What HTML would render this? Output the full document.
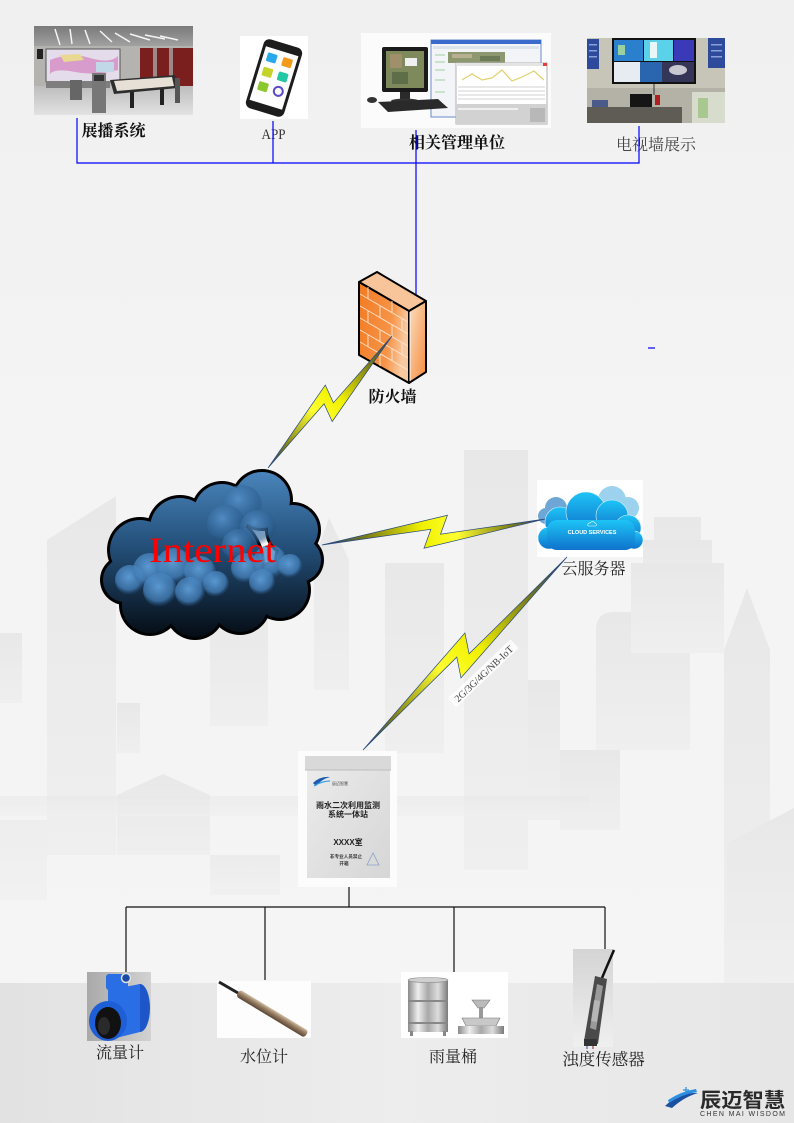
<!DOCTYPE html>
<html><head><meta charset="utf-8"><style>
html,body{margin:0;padding:0;background:#f3f3f3;}
svg{display:block;}
.cj{font-family:"Liberation Serif","Noto Serif CJK SC",serif;}
.cs{font-family:"Liberation Sans","Noto Sans CJK SC",sans-serif;}
</style></head><body>
<svg width="794" height="1123" viewBox="0 0 794 1123" xmlns="http://www.w3.org/2000/svg">
<defs>
<linearGradient id="bg" x1="0" y1="0" x2="0" y2="1"><stop offset="0" stop-color="#f0f0f0"/><stop offset="0.4" stop-color="#f4f4f4"/><stop offset="1" stop-color="#f5f5f5"/></linearGradient>
<linearGradient id="band" x1="0" y1="0" x2="1" y2="0"><stop offset="0" stop-color="#e2e2e2"/><stop offset="0.5" stop-color="#ededed"/><stop offset="1" stop-color="#e6e6e6"/></linearGradient>
<linearGradient id="bld" x1="0" y1="0" x2="0" y2="1"><stop offset="0" stop-color="#e8e8e8"/><stop offset="1" stop-color="#efefef"/></linearGradient>
<linearGradient id="cloudG" gradientUnits="userSpaceOnUse" x1="0" y1="470" x2="0" y2="637"><stop offset="0" stop-color="#4a86bd"/><stop offset="0.45" stop-color="#24507a"/><stop offset="1" stop-color="#050c14"/></linearGradient>
<radialGradient id="puff" cx="0.45" cy="0.4" r="0.6"><stop offset="0" stop-color="#5e9ed8" stop-opacity="0.95"/><stop offset="0.7" stop-color="#4682bc" stop-opacity="0.75"/><stop offset="1" stop-color="#2e5f92" stop-opacity="0"/></radialGradient>
<radialGradient id="puff2" cx="0.4" cy="0.35" r="0.65"><stop offset="0" stop-color="#5590c8" stop-opacity="0.9"/><stop offset="0.75" stop-color="#2f6396" stop-opacity="0.6"/><stop offset="1" stop-color="#1c3f62" stop-opacity="0"/></radialGradient>
<linearGradient id="b1" gradientUnits="userSpaceOnUse" x1="392" y1="336" x2="268" y2="468"><stop offset="0" stop-color="#1e3c78"/><stop offset="0.2" stop-color="#7a7a18"/><stop offset="0.45" stop-color="#f0f000"/><stop offset="0.6" stop-color="#ffff30"/><stop offset="0.85" stop-color="#7a7a18"/><stop offset="1" stop-color="#1e3c78"/></linearGradient>
<linearGradient id="b2" gradientUnits="userSpaceOnUse" x1="322" y1="545" x2="545" y2="519"><stop offset="0" stop-color="#1e3c78"/><stop offset="0.2" stop-color="#7a7a18"/><stop offset="0.45" stop-color="#f0f000"/><stop offset="0.6" stop-color="#ffff30"/><stop offset="0.85" stop-color="#7a7a18"/><stop offset="1" stop-color="#1e3c78"/></linearGradient>
<linearGradient id="b3" gradientUnits="userSpaceOnUse" x1="567" y1="557" x2="363" y2="750"><stop offset="0" stop-color="#1e3c78"/><stop offset="0.2" stop-color="#7a7a18"/><stop offset="0.45" stop-color="#f0f000"/><stop offset="0.6" stop-color="#ffff30"/><stop offset="0.85" stop-color="#7a7a18"/><stop offset="1" stop-color="#1e3c78"/></linearGradient>
<linearGradient id="fwF" x1="0" y1="0" x2="1" y2="0.3"><stop offset="0" stop-color="#f27a22"/><stop offset="0.7" stop-color="#f69448"/><stop offset="1" stop-color="#f9c9a0"/></linearGradient>
<linearGradient id="fwR" x1="0" y1="0" x2="1" y2="1"><stop offset="0" stop-color="#fbe0c4"/><stop offset="1" stop-color="#f58a3a"/></linearGradient>
<linearGradient id="csG" x1="0" y1="0" x2="0" y2="1"><stop offset="0" stop-color="#1ec4f6"/><stop offset="1" stop-color="#0f72cc"/></linearGradient>
<linearGradient id="boxG" x1="0" y1="0" x2="1" y2="1"><stop offset="0" stop-color="#ececec"/><stop offset="1" stop-color="#d6d6d6"/></linearGradient>
<linearGradient id="metal" x1="0" y1="0" x2="1" y2="0"><stop offset="0" stop-color="#8a8a8a"/><stop offset="0.25" stop-color="#eeeeee"/><stop offset="0.5" stop-color="#a8a8a8"/><stop offset="0.75" stop-color="#dddddd"/><stop offset="1" stop-color="#7a7a7a"/></linearGradient>
<linearGradient id="fmBg" x1="0" y1="0" x2="1" y2="0"><stop offset="0" stop-color="#a9a9a9"/><stop offset="1" stop-color="#d2d2d2"/></linearGradient>
<linearGradient id="tbBg" x1="0" y1="0" x2="0" y2="1"><stop offset="0" stop-color="#d4d4d4"/><stop offset="1" stop-color="#efefef"/></linearGradient>
<linearGradient id="ceil" x1="0" y1="0" x2="0" y2="1"><stop offset="0" stop-color="#7a7a7a"/><stop offset="1" stop-color="#a8a8a8"/></linearGradient>
<linearGradient id="floor" x1="0" y1="0" x2="0" y2="1"><stop offset="0" stop-color="#bdbdbd"/><stop offset="1" stop-color="#e2e2e2"/></linearGradient>
<linearGradient id="rod" gradientUnits="userSpaceOnUse" x1="0" y1="-4" x2="0" y2="4"><stop offset="0" stop-color="#d2c0a6"/><stop offset="0.4" stop-color="#9a8066"/><stop offset="1" stop-color="#5a4634"/></linearGradient>
</defs>

<!-- background -->
<rect x="0" y="0" width="794" height="1123" fill="url(#bg)"/>
<g fill="url(#bld)">
<rect x="464" y="450" width="64" height="420"/>
<polygon points="47,540 116,496 116,855 47,855"/>
<rect x="0" y="633" width="22" height="70"/>
<rect x="117" y="703" width="23" height="50"/>
<rect x="210" y="600" width="58" height="126"/>
<polygon points="314,560 329,518 349,560 349,690 314,690"/>
<rect x="385" y="563" width="59" height="190"/>
<rect x="528" y="680" width="32" height="140"/>
<path d="M596,750 L596,630 Q596,612 614,612 L690,612 L690,750 Z"/>
<rect x="654" y="517" width="47" height="120"/>
<rect x="643" y="540" width="69" height="100"/>
<rect x="631" y="563" width="93" height="90"/>
<polygon points="724,650 747,588 770,650 770,1000 724,1000"/>
<rect x="560" y="750" width="60" height="80"/>
<polygon points="117,795 163,774 210,795 210,855 117,855"/>
<rect x="0" y="796" width="590" height="20" opacity="0.6"/>
<polygon points="727,843 794,808 794,983 727,983"/>
<rect x="210" y="855" width="70" height="40" opacity="0.7"/>
<rect x="0" y="820" width="47" height="80" opacity="0.6"/>
</g>
<rect x="0" y="983" width="794" height="140" fill="url(#band)"/>

<!-- IMAGE 1: 展播系统 -->
<g>
<rect x="34" y="26" width="159" height="89" fill="#a4a4a4"/>
<rect x="34" y="26" width="159" height="24" fill="url(#ceil)"/>
<g stroke="#f4f4f4" stroke-width="1.5">
<line x1="55" y1="29" x2="60" y2="45"/><line x1="70" y1="29" x2="72" y2="44"/><line x1="85" y1="30" x2="90" y2="44"/><line x1="100" y1="31" x2="112" y2="42"/><line x1="115" y1="33" x2="130" y2="42"/><line x1="130" y1="34" x2="150" y2="40"/><line x1="145" y1="35" x2="165" y2="39"/><line x1="160" y1="36" x2="178" y2="40"/>
</g>
<rect x="34" y="46" width="159" height="40" fill="#b5b3b0"/>
<rect x="37" y="49" width="6" height="10" fill="#222"/>
<rect x="46" y="49" width="74" height="33" fill="#e4dcea"/>
<path d="M50,60 Q70,52 90,58 T118,56 L118,70 Q95,76 75,72 T50,74 Z" fill="#d89ccc"/>
<path d="M60,55 L80,54 L84,60 L64,62 Z" fill="#e8d890"/>
<rect x="96" y="62" width="18" height="10" fill="#c0d8e8"/>
<rect x="46" y="49" width="74" height="33" fill="none" stroke="#555" stroke-width="1"/>
<rect x="140" y="48" width="53" height="40" fill="#7b1e1e"/>
<rect x="153" y="48" width="4" height="40" fill="#9a8a8a"/>
<rect x="169" y="48" width="4" height="40" fill="#9a8a8a"/>
<rect x="34" y="86" width="159" height="29" fill="url(#floor)"/>
<rect x="46" y="81" width="64" height="7" fill="#7e7e7e"/>
<rect x="70" y="80" width="12" height="20" fill="#666"/>
<rect x="92" y="73" width="14" height="40" fill="#777"/>
<rect x="94" y="75" width="10" height="6" fill="#333"/>
<polygon points="110,80 175,75 178,88 114,94" fill="#2e2e2e"/>
<polygon points="114,81 172,77 174,86 117,91" fill="#e6e0d6"/>
<rect x="130" y="92" width="4" height="16" fill="#222"/>
<rect x="160" y="89" width="4" height="16" fill="#222"/>
<rect x="175" y="78" width="5" height="25" fill="#555"/>
</g>

<!-- IMAGE 2: APP -->
<rect x="240" y="36" width="68" height="83" fill="#ffffff"/>
<g transform="rotate(17 274 78)">
<rect x="254" y="42" width="40" height="72" rx="6" fill="#1c1c1c"/>
<rect x="257" y="50" width="34" height="56" fill="#fdfdfd"/>
<rect x="261" y="55" width="10" height="9" rx="1.5" fill="#2aa8ec"/>
<rect x="277" y="55" width="10" height="9" rx="1.5" fill="#f29a1c"/>
<rect x="261" y="70" width="10" height="9" rx="1.5" fill="#c4d22a"/>
<rect x="277" y="70" width="10" height="9" rx="1.5" fill="#22c8a4"/>
<rect x="261" y="85" width="10" height="9" rx="1.5" fill="#8ac82e"/>
<circle cx="282" cy="89.5" r="4.5" fill="none" stroke="#5a4ad0" stroke-width="2"/>
</g>

<!-- IMAGE 3: 相关管理单位 -->
<g>
<rect x="361" y="33" width="190" height="95" fill="#fbfbfb"/>
<rect x="431" y="40" width="110" height="77" fill="#f2f4f7" stroke="#6a8acb" stroke-width="1"/>
<rect x="431" y="40" width="110" height="4" fill="#3a6acb"/>
<rect x="433" y="46" width="106" height="3" fill="#dde3ea"/>
<rect x="448" y="52" width="57" height="11" fill="#8e9870"/>
<rect x="452" y="54" width="20" height="4" fill="#b8b090"/>
<rect x="480" y="56" width="20" height="5" fill="#6c7a58"/>
<g stroke="#9fcf9f" stroke-width="1"><line x1="435" y1="55" x2="445" y2="55"/><line x1="435" y1="62" x2="445" y2="62"/><line x1="435" y1="70" x2="445" y2="70"/><line x1="435" y1="80" x2="445" y2="80"/><line x1="435" y1="92" x2="445" y2="92"/></g>
<rect x="456" y="63" width="91" height="61" fill="#ffffff" stroke="#b0b0b0" stroke-width="1"/>
<rect x="456" y="63" width="91" height="3" fill="#e4e4e4"/>
<rect x="543" y="63" width="4" height="3" fill="#e04040"/>
<polyline points="462,80 472,74 482,80 492,78 502,70 512,81 522,77 534,71 544,80" fill="none" stroke="#e0d070" stroke-width="1.2"/>
<g stroke="#d0d0d0" stroke-width="1"><line x1="458" y1="87" x2="545" y2="87"/><line x1="458" y1="91" x2="545" y2="91"/><line x1="458" y1="95" x2="545" y2="95"/><line x1="458" y1="99" x2="545" y2="99"/></g>
<rect x="456" y="104" width="91" height="20" fill="#d2d2d2"/>
<rect x="458" y="108" width="60" height="2" fill="#f0f0f0"/>
<rect x="530" y="108" width="15" height="14" fill="#b8b8b8"/>
<rect x="382" y="47" width="46" height="45" rx="2" fill="#1a1a1a"/>
<rect x="386" y="51" width="38" height="37" fill="#7e8a5c"/>
<rect x="390" y="54" width="12" height="14" fill="#a0906a"/>
<rect x="405" y="58" width="12" height="8" fill="#f0f0f0"/>
<rect x="392" y="72" width="16" height="12" fill="#5e6e48"/>
<rect x="400" y="92" width="10" height="8" fill="#2a2a2a"/>
<ellipse cx="405" cy="101" rx="14" ry="2.5" fill="#333"/>
<polygon points="378,102 438,99 448,108 388,112" fill="#2a2a2a"/>
<ellipse cx="372" cy="100" rx="5" ry="3" fill="#333"/>
</g>

<!-- IMAGE 4: 电视墙展示 -->
<g>
<rect x="587" y="38" width="138" height="85" fill="#c7c5b8"/>
<rect x="587" y="88" width="138" height="35" fill="#b4b2a6"/>
<rect x="587" y="39" width="12" height="30" fill="#2e4a9a"/>
<rect x="708" y="38" width="17" height="30" fill="#2e4a9a"/>
<g fill="#8aa0d8"><rect x="589" y="44" width="8" height="1.5"/><rect x="589" y="50" width="8" height="1.5"/><rect x="589" y="56" width="8" height="1.5"/><rect x="711" y="44" width="11" height="1.5"/><rect x="711" y="50" width="11" height="1.5"/><rect x="711" y="56" width="11" height="1.5"/></g>
<rect x="612" y="38" width="84" height="46" fill="#111"/>
<rect x="614" y="40" width="29" height="21" fill="#2a80cc"/>
<rect x="618" y="45" width="7" height="10" fill="#9ad0a0"/>
<rect x="644" y="40" width="29" height="21" fill="#5cd2ea"/>
<rect x="650" y="42" width="7" height="16" fill="#e8f6f8"/>
<rect x="674" y="40" width="20" height="21" fill="#3a3ab8"/>
<rect x="614" y="62" width="26" height="20" fill="#e6ecf2"/>
<rect x="640" y="62" width="22" height="20" fill="#2a66b0"/>
<rect x="662" y="62" width="32" height="20" fill="#353558"/>
<ellipse cx="678" cy="70" rx="9" ry="5" fill="#c8c8d0"/>
<line x1="654" y1="84" x2="654" y2="95" stroke="#333"/>
<rect x="592" y="100" width="16" height="23" fill="#4a5a8a"/>
<rect x="630" y="94" width="22" height="14" fill="#151515"/>
<rect x="587" y="107" width="95" height="16" fill="#5e5c55"/>
<rect x="655" y="95" width="5" height="10" fill="#b02020"/>
<rect x="692" y="92" width="33" height="31" fill="#d8dccc"/>
<rect x="698" y="98" width="10" height="20" fill="#a8c890"/>
</g>

<!-- top labels -->
<text x="113.5" y="136" text-anchor="middle" class="cj" font-size="16" font-weight="bold" fill="#111">展播系统</text>
<text x="273.5" y="139" text-anchor="middle" font-family="Liberation Serif, serif" font-size="15" fill="#333" textLength="24" lengthAdjust="spacingAndGlyphs">APP</text>
<text x="457" y="148" text-anchor="middle" class="cj" font-size="16" font-weight="bold" fill="#111">相关管理单位</text>
<text x="656" y="150" text-anchor="middle" class="cj" font-size="16" fill="#444">电视墙展示</text>

<!-- blue connectors -->
<g stroke="#0000ff" stroke-width="1.2" fill="none">
<polyline points="77,118 77,163 639,163 639,126"/>
<line x1="273" y1="121" x2="273" y2="163"/>
<line x1="416" y1="130" x2="416" y2="295"/>
<line x1="648" y1="348" x2="655" y2="348"/>
</g>

<!-- firewall -->
<g stroke="#000" stroke-width="2" stroke-linejoin="round">
<polygon points="359,282 377,272 426,301 409,311" fill="#f8c49a"/>
<polygon points="359,282 409,311 409,383 359,355" fill="url(#fwF)"/>
<polygon points="409,311 426,301 426,372 409,383" fill="url(#fwR)"/>
</g>
<g stroke="#fde6d2" stroke-width="1" opacity="0.9">
<line x1="360" y1="294" x2="408" y2="322"/>
<line x1="360" y1="306" x2="408" y2="334"/>
<line x1="360" y1="318" x2="408" y2="346"/>
<line x1="360" y1="330" x2="408" y2="358"/>
<line x1="360" y1="342" x2="408" y2="370"/>
<line x1="368" y1="287" x2="368" y2="299"/><line x1="392" y1="301" x2="392" y2="313"/>
<line x1="380" y1="306" x2="380" y2="318"/><line x1="402" y1="319" x2="402" y2="331"/>
<line x1="368" y1="311" x2="368" y2="323"/><line x1="392" y1="325" x2="392" y2="337"/>
<line x1="380" y1="330" x2="380" y2="342"/><line x1="402" y1="343" x2="402" y2="355"/>
<line x1="368" y1="335" x2="368" y2="347"/><line x1="392" y1="349" x2="392" y2="361"/>
<line x1="380" y1="354" x2="380" y2="366"/>
<line x1="410" y1="312" x2="410" y2="381" stroke="#ffffff"/>
</g>
<text x="392.5" y="402" text-anchor="middle" class="cj" font-size="16" font-weight="bold" fill="#111">防火墙</text>

<!-- Internet cloud -->
<g fill="#000">
<circle cx="262" cy="500" r="31"/><circle cx="222" cy="512" r="31"/><circle cx="180" cy="528" r="33"/><circle cx="140" cy="550" r="33"/><circle cx="125" cy="580" r="25"/><circle cx="150" cy="605" r="31"/><circle cx="195" cy="610" r="30"/><circle cx="240" cy="604" r="31"/><circle cx="280" cy="590" r="31"/><circle cx="299" cy="560" r="25"/><circle cx="293" cy="530" r="28"/><circle cx="210" cy="565" r="55"/>
</g>
<g fill="url(#cloudG)">
<circle cx="262" cy="500" r="28"/><circle cx="222" cy="512" r="28"/><circle cx="180" cy="528" r="30"/><circle cx="140" cy="550" r="30"/><circle cx="125" cy="580" r="22"/><circle cx="150" cy="605" r="28"/><circle cx="195" cy="610" r="27"/><circle cx="240" cy="604" r="28"/><circle cx="280" cy="590" r="28"/><circle cx="299" cy="560" r="22"/><circle cx="293" cy="530" r="25"/><circle cx="210" cy="565" r="52"/>
</g>
<g fill="url(#puff2)">
<circle cx="242" cy="505" r="20"/><circle cx="226" cy="524" r="19"/><circle cx="258" cy="528" r="18"/><circle cx="238" cy="545" r="16"/>
</g>
<g fill="url(#puff)">
<circle cx="130" cy="580" r="15"/><circle cx="150" cy="570" r="17"/><circle cx="174" cy="566" r="18"/><circle cx="200" cy="572" r="16"/><circle cx="160" cy="590" r="17"/><circle cx="190" cy="592" r="15"/><circle cx="216" cy="584" r="13"/>
<circle cx="246" cy="568" r="15"/><circle cx="270" cy="562" r="17"/><circle cx="290" cy="566" r="12"/><circle cx="262" cy="582" r="13"/>
</g>
<text x="149" y="562" font-family="Liberation Serif, serif" font-size="36" fill="#ff0000" textLength="127" lengthAdjust="spacingAndGlyphs">Internet</text>

<!-- cloud server -->
<g>
<rect x="537" y="480" width="106" height="77" fill="#ffffff"/>
<g fill="#9cd2ee"><circle cx="612" cy="500" r="14"/><circle cx="628" cy="508" r="11"/><circle cx="598" cy="506" r="10"/></g>
<g fill="#6ea6d6"><circle cx="556" cy="508" r="11"/><circle cx="546" cy="516" r="8"/></g>
<g fill="url(#csG)" stroke="#d8f2fc" stroke-width="0.6">
<circle cx="560" cy="522" r="15"/><circle cx="586" cy="512" r="20"/><circle cx="612" cy="516" r="16"/><circle cx="628" cy="528" r="13"/><circle cx="549" cy="538" r="11"/><circle cx="634" cy="540" r="9"/>
</g>
<rect x="547" y="520" width="88" height="30" rx="10" fill="url(#csG)"/>
<text x="592" y="534" text-anchor="middle" font-family="Liberation Sans, sans-serif" font-size="5.5" font-weight="bold" fill="#ffffff">CLOUD SERVICES</text>
<path d="M588,526 a2,2 0 0 1 2,-3 a3,3 0 0 1 5,0 a2,2 0 0 1 1,3 z" fill="none" stroke="#fff" stroke-width="0.6"/>
</g>
<text x="593.5" y="574" text-anchor="middle" class="cj" font-size="16" fill="#222">云服务器</text>

<!-- lightning bolts -->
<g stroke="#2a4a7a" stroke-width="0.7" stroke-linejoin="miter">
<polygon points="392,336 332.2,421.5 324.1,403.8 268,468 325.3,385.1 333.4,402.8" fill="url(#b1)"/>
<polygon points="322,545 447.4,515.3 440.5,534.2 545,519 424.0,548.2 430.9,529.3" fill="url(#b2)"/>
<polygon points="567,557 461.0,677.9 456.8,657.1 363,750 464.9,633.0 469.1,653.8" fill="url(#b3)"/>
</g>
<g transform="translate(484 674) rotate(-43.4)">
<rect x="-43" y="-7" width="86" height="12" fill="#ffffff" opacity="0.85"/>
<text x="0" y="3" text-anchor="middle" font-family="Liberation Serif, serif" font-size="10" fill="#444">2G/3G/4G/NB-IoT</text>
</g>

<!-- station box -->
<g>
<rect x="298" y="751" width="99" height="136" fill="#fcfcfc"/>
<rect x="307" y="757" width="83" height="121" fill="url(#boxG)"/>
<rect x="305" y="756" width="86" height="14" fill="#d9d9d9"/>
<line x1="305" y1="770" x2="391" y2="770" stroke="#bdbdbd" stroke-width="1"/>
<path d="M313,783 Q320,776 330,777 Q322,779 316,786 Z" fill="#1c5cb0"/>
<path d="M314,786 Q322,781 330,781" stroke="#3aa0e0" stroke-width="1.2" fill="none"/>
<text x="332" y="785" class="cs" font-size="4" fill="#444">辰迈智慧</text>
<text x="348" y="808" text-anchor="middle" class="cs" font-size="8" font-weight="bold" fill="#222">雨水二次利用监测</text>
<text x="348" y="817" text-anchor="middle" class="cs" font-size="8" font-weight="bold" fill="#222">系统一体站</text>
<text x="348" y="845" text-anchor="middle" class="cs" font-size="8" font-weight="bold" fill="#222">XXXX室</text>
<text x="346" y="858" text-anchor="middle" class="cs" font-size="4.6" font-weight="bold" fill="#333">非专业人员禁止</text>
<text x="344" y="865" text-anchor="middle" class="cs" font-size="4.6" font-weight="bold" fill="#333">开箱</text>
<polygon points="373,853 367,865 379,865" fill="none" stroke="#8aa2cc" stroke-width="0.8"/>
</g>

<!-- tree connectors -->
<g stroke="#111" stroke-width="1.2" fill="none">
<line x1="349" y1="887" x2="349" y2="907"/>
<line x1="126" y1="907" x2="605" y2="907"/>
<line x1="126" y1="907" x2="126" y2="972"/>
<line x1="265" y1="907" x2="265" y2="980"/>
<line x1="454" y1="907" x2="454" y2="972"/>
<line x1="605" y1="907" x2="605" y2="949"/>
</g>

<!-- flow meter -->
<g>
<rect x="87" y="972" width="64" height="69" fill="url(#fmBg)"/>
<ellipse cx="140" cy="1008" rx="10" ry="24" fill="#1c56c8"/>
<polygon points="108,990 140,984 140,1032 108,1040" fill="#2a6ee6"/>
<rect x="106" y="974" width="22" height="16" rx="3" fill="#2a6ee6"/>
<circle cx="126" cy="978" r="4.5" fill="#1a4aa8" stroke="#e0e0e0" stroke-width="1.5"/>
<ellipse cx="108" cy="1021" rx="19" ry="20" fill="#1e5ed6"/>
<ellipse cx="108" cy="1023" rx="13" ry="16" fill="#111"/>
<ellipse cx="104" cy="1026" rx="6" ry="9" fill="#2a2a2a"/>
</g>
<!-- water level gauge -->
<g>
<rect x="217" y="981" width="94" height="57" fill="#fdfdfd"/>
<line x1="219" y1="982" x2="238" y2="993" stroke="#222" stroke-width="3"/>
<g transform="translate(238 993) rotate(31.1)">
<rect x="0" y="-4" width="80" height="8" rx="3" fill="url(#rod)"/>
</g>
</g>
<!-- rain gauge -->
<g>
<rect x="401" y="972" width="107" height="66" fill="#ffffff"/>
<rect x="408" y="980" width="40" height="52" fill="url(#metal)"/>
<ellipse cx="428" cy="980" rx="20" ry="2.5" fill="#cfcfcf" stroke="#888" stroke-width="0.6"/>
<rect x="408" y="1000" width="40" height="2" fill="#888"/>
<rect x="408" y="1022" width="40" height="2" fill="#888"/>
<rect x="410" y="1031" width="3" height="5" fill="#888"/><rect x="443" y="1031" width="3" height="5" fill="#888"/>
<polygon points="472,1000 490,1000 484,1008 478,1008" fill="#bbb" stroke="#777" stroke-width="0.6"/>
<rect x="479" y="1007" width="4" height="12" fill="#999"/>
<polygon points="462,1018 500,1018 496,1026 466,1026" fill="#c8c8c8" stroke="#777" stroke-width="0.6"/>
<rect x="458" y="1026" width="46" height="8" fill="url(#metal)"/>
</g>
<!-- turbidity sensor -->
<g>
<rect x="573" y="949" width="40" height="98" fill="url(#tbBg)"/>
<path d="M614,950 Q607,966 602,978" stroke="#111" stroke-width="2.5" fill="none"/>
<polygon points="595,976 607,979 598,1044 584,1041" fill="#4a4a4a"/>
<polygon points="597,984 603,986 596,1030 590,1028" fill="#9a9a9a"/>
<polygon points="594,1000 600,1001 597,1022 591,1021" fill="#c8c8c8" opacity="0.6"/>
<rect x="584" y="1039" width="13" height="7" fill="#333"/>
<line x1="587" y1="1046" x2="587" y2="1049" stroke="#4a6aa8" stroke-width="1.2"/>
<line x1="593" y1="1046" x2="593" y2="1049" stroke="#a04040" stroke-width="1.2"/>
</g>

<!-- bottom labels -->
<text x="120" y="1058" text-anchor="middle" class="cj" font-size="16" fill="#222">流量计</text>
<text x="264" y="1062" text-anchor="middle" class="cj" font-size="16" fill="#222">水位计</text>
<text x="453" y="1062" text-anchor="middle" class="cj" font-size="16" fill="#222">雨量桶</text>
<text x="603.5" y="1065" text-anchor="middle" class="cj" font-size="16.5" fill="#222">浊度传感器</text>

<!-- logo -->
<g>
<path d="M665,1106 Q680,1092 698,1093 Q684,1097 672,1108 Z" fill="#1b4fa0"/>
<path d="M668,1100 Q682,1091 696,1089 L697,1092 Q683,1094 669,1103 Z" fill="#2d8fe0"/>
<path d="M683,1090 h6 M686,1087 v6" stroke="#2d8fe0" stroke-width="1.2"/>
<text x="700" y="1107" class="cs" font-size="20" font-weight="bold" fill="#2a2a2a" textLength="85" lengthAdjust="spacingAndGlyphs">辰迈智慧</text>
<text x="700" y="1116" font-family="Liberation Sans, sans-serif" font-size="7" fill="#333" textLength="85" lengthAdjust="spacing">CHEN MAI WISDOM</text>
</g>
</svg>
</body></html>
